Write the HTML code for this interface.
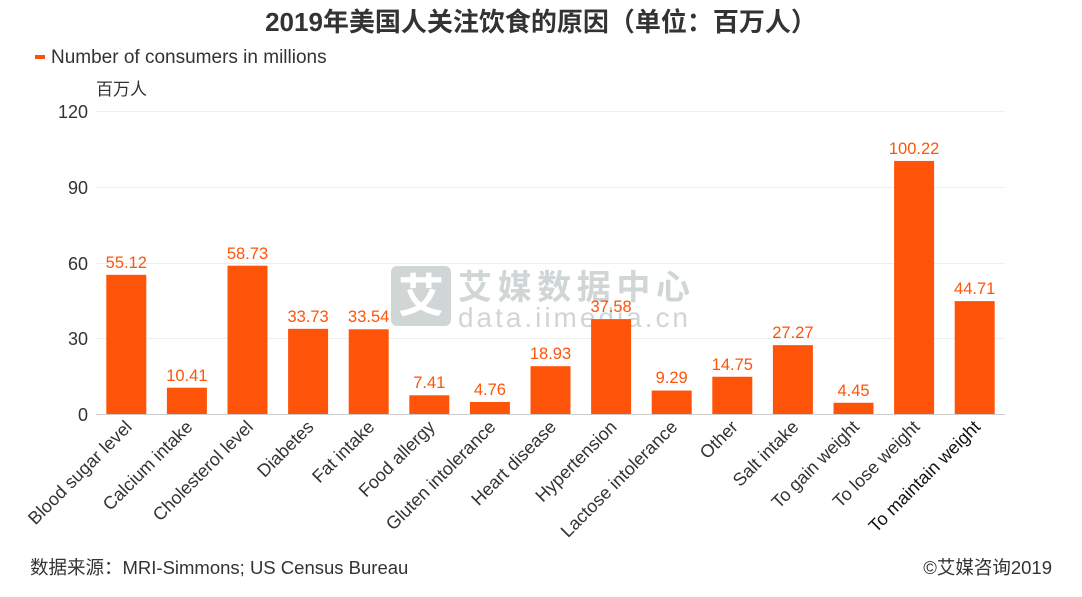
<!DOCTYPE html>
<html><head><meta charset="utf-8"><style>
body{margin:0;background:#fff;}
svg text{font-family:"Liberation Sans","Noto Sans CJK SC",sans-serif;}
</style></head><body>
<svg width="1082" height="592" viewBox="0 0 1082 592" xmlns="http://www.w3.org/2000/svg">
<text x="541" y="31" text-anchor="middle" font-size="26" font-weight="bold" fill="#333">2019年美国人关注饮食的原因（单位：百万人）</text>
<rect x="35" y="55" width="10" height="4" fill="#fe5409"/>
<text x="51" y="63" font-size="19" fill="#333">Number of consumers in millions</text>
<text x="96" y="95" font-size="17" fill="#333">百万人</text>
<g stroke="#eee" stroke-width="1">
<line x1="96" y1="111.5" x2="1005" y2="111.5"/>
<line x1="96" y1="187.5" x2="1005" y2="187.5"/>
<line x1="96" y1="263.5" x2="1005" y2="263.5"/>
<line x1="96" y1="338.5" x2="1005" y2="338.5"/>
</g>
<line x1="96" y1="414.5" x2="1005" y2="414.5" stroke="#ccc"/>
<g font-size="18" fill="#333" text-anchor="end">
<text x="88" y="118">120</text><text x="88" y="194">90</text><text x="88" y="270">60</text><text x="88" y="345">30</text><text x="88" y="421">0</text>
</g>
<g fill="#d0d5d5">
<rect x="391" y="266" width="60" height="60" rx="6"/>
<text x="421" y="312" font-size="46" fill="#fff" text-anchor="middle" font-weight="bold">艾</text>
<text x="458" y="299" font-size="34" font-weight="bold" textLength="232">艾媒数据中心</text>
<text x="458" y="327" font-size="28" textLength="230">data.iimedia.cn</text>
</g>
<g fill="#fe5409">
<rect x="106.3" y="274.82" width="40" height="139.18"/>
<rect x="166.9" y="387.71" width="40" height="26.29"/>
<rect x="227.5" y="265.71" width="40" height="148.29"/>
<rect x="288.1" y="328.83" width="40" height="85.17"/>
<rect x="348.7" y="329.31" width="40" height="84.69"/>
<rect x="409.3" y="395.29" width="40" height="18.71"/>
<rect x="469.9" y="401.98" width="40" height="12.02"/>
<rect x="530.5" y="366.2" width="40" height="47.8"/>
<rect x="591.1" y="319.11" width="40" height="94.89"/>
<rect x="651.7" y="390.54" width="40" height="23.46"/>
<rect x="712.3" y="376.76" width="40" height="37.24"/>
<rect x="772.9" y="345.14" width="40" height="68.86"/>
<rect x="833.5" y="402.76" width="40" height="11.24"/>
<rect x="894.1" y="160.94" width="40" height="253.06"/>
<rect x="954.7" y="301.11" width="40" height="112.89"/>
</g>
<g font-size="16.5" fill="#fe5409" text-anchor="middle">
<text x="126.3" y="268">55.12</text>
<text x="186.9" y="381">10.41</text>
<text x="247.5" y="259">58.73</text>
<text x="308.1" y="322">33.73</text>
<text x="368.7" y="322">33.54</text>
<text x="429.3" y="388">7.41</text>
<text x="489.9" y="395">4.76</text>
<text x="550.5" y="359">18.93</text>
<text x="611.1" y="312">37.58</text>
<text x="671.7" y="383">9.29</text>
<text x="732.3" y="370">14.75</text>
<text x="792.9" y="338">27.27</text>
<text x="853.5" y="396">4.45</text>
<text x="914.1" y="154">100.22</text>
<text x="974.7" y="294">44.71</text>
</g>
<g font-size="18" fill="#333" text-anchor="end">
<text transform="translate(133,428) rotate(-45)">Blood sugar level</text>
<text transform="translate(193.6,428) rotate(-45)">Calcium intake</text>
<text transform="translate(254.2,428) rotate(-45)">Cholesterol level</text>
<text transform="translate(314.8,428) rotate(-45)">Diabetes</text>
<text transform="translate(375.4,428) rotate(-45)">Fat intake</text>
<text transform="translate(436,428) rotate(-45)">Food allergy</text>
<text transform="translate(496.6,428) rotate(-45)">Gluten intolerance</text>
<text transform="translate(557.2,428) rotate(-45)">Heart disease</text>
<text transform="translate(617.8,428) rotate(-45)">Hypertension</text>
<text transform="translate(678.4,428) rotate(-45)">Lactose intolerance</text>
<text transform="translate(739,428) rotate(-45)">Other</text>
<text transform="translate(799.6,428) rotate(-45)">Salt intake</text>
<text transform="translate(860.2,428) rotate(-45)">To gain weight</text>
<text transform="translate(920.8,428) rotate(-45)">To lose weight</text>
<text transform="translate(981.4,428) rotate(-45)" fill="#111">To maintain weight</text>
</g>
<text x="30" y="574" font-size="18.5" fill="#333">数据来源：MRI-Simmons;  US Census Bureau</text>
<text x="1052" y="574" font-size="18.5" fill="#333" text-anchor="end">©艾媒咨询2019</text>
</svg>
</body></html>
